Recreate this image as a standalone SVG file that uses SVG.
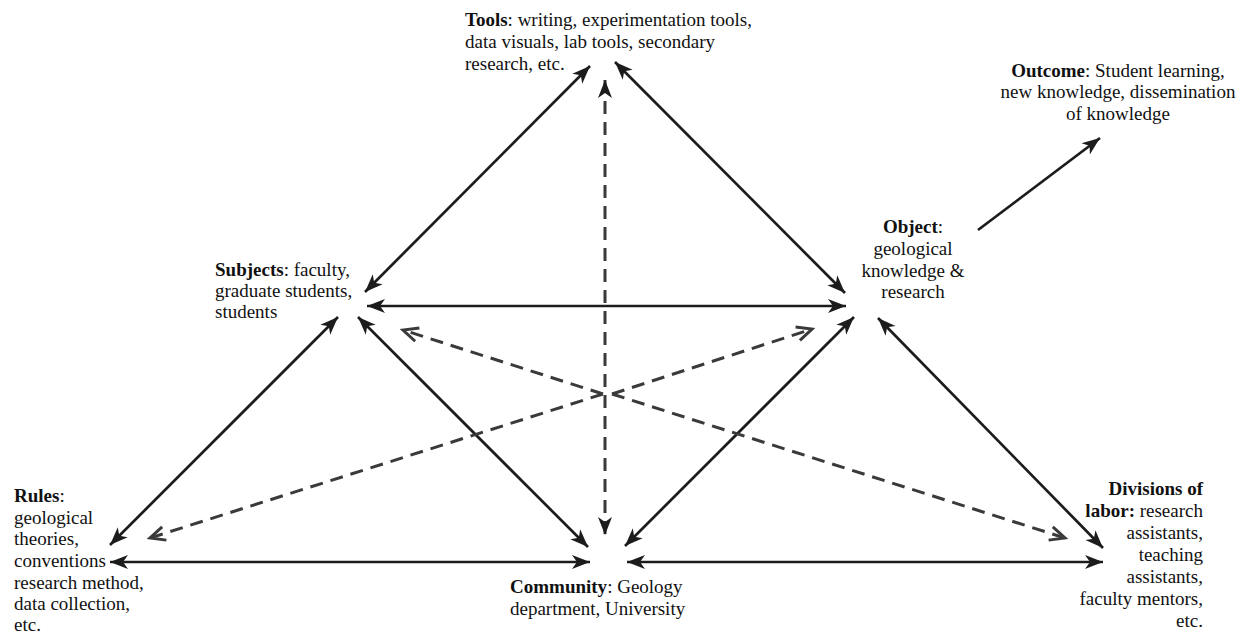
<svg xmlns="http://www.w3.org/2000/svg" width="1243" height="633" viewBox="0 0 1243 633">
<defs>
<style>
.t{font-family:"Liberation Serif","Times New Roman",serif;font-size:19px;fill:#111}
.b{font-weight:bold}
.s{stroke:#1c1c1c;stroke-width:2.7;fill:none}
.d{stroke:#3a3a3a;stroke-width:3;fill:none;stroke-dasharray:13 8}
</style>
<marker id="ah" markerUnits="userSpaceOnUse" markerWidth="19" markerHeight="16" refX="18" refY="8" orient="auto-start-reverse" viewBox="0 0 19 16">
<path d="M0,1 L18,8 L0,15 L5,8 z" fill="#1c1c1c"/>
</marker>
<marker id="oh" markerUnits="userSpaceOnUse" markerWidth="19" markerHeight="18" refX="16" refY="9" orient="auto" viewBox="0 0 19 18">
<path d="M1,2 L16,9 L1,16" fill="none" stroke="#3a3a3a" stroke-width="3"/>
</marker>
</defs>
<rect width="1243" height="633" fill="#fff"/>
<g id="connectors">
<line class="s" x1="590" y1="66" x2="365" y2="292" marker-start="url(#ah)" marker-end="url(#ah)"/>
<line class="s" x1="615" y1="62" x2="845" y2="293" marker-start="url(#ah)" marker-end="url(#ah)"/>
<line class="s" x1="367" y1="306" x2="846" y2="306" marker-start="url(#ah)" marker-end="url(#ah)"/>
<line class="s" x1="338" y1="317" x2="110" y2="545" marker-start="url(#ah)" marker-end="url(#ah)"/>
<line class="s" x1="358" y1="317" x2="588" y2="547" marker-start="url(#ah)" marker-end="url(#ah)"/>
<line class="s" x1="854" y1="317" x2="625" y2="546" marker-start="url(#ah)" marker-end="url(#ah)"/>
<line class="s" x1="878" y1="318" x2="1103" y2="548" marker-start="url(#ah)" marker-end="url(#ah)"/>
<line class="s" x1="110" y1="562" x2="590" y2="562" marker-start="url(#ah)" marker-end="url(#ah)"/>
<line class="s" x1="627" y1="562" x2="1103" y2="562" marker-start="url(#ah)" marker-end="url(#ah)"/>
<line class="s" x1="978" y1="230" x2="1100" y2="138" marker-end="url(#ah)"/>
<line class="d" x1="605" y1="80" x2="605" y2="535" marker-start="url(#ah)" marker-end="url(#ah)"/>
<line class="d" x1="603" y1="394" x2="403" y2="330" marker-end="url(#oh)"/>
<line class="d" x1="603" y1="394" x2="150" y2="538" marker-end="url(#oh)"/>
<line class="d" x1="612" y1="394" x2="812" y2="329" marker-end="url(#oh)"/>
<line class="d" x1="612" y1="394" x2="1065" y2="538" marker-end="url(#oh)"/>
</g>
<g id="tools">
<text class="t" x="465" y="26"><tspan class="b">Tools</tspan>: writing, experimentation tools,</text>
<text class="t" x="465" y="48">data visuals, lab tools, secondary</text>
<text class="t" x="465" y="70">research, etc.</text>
</g>
<g id="outcome">
<text class="t" x="1118" y="77" text-anchor="middle"><tspan class="b">Outcome</tspan>: Student learning,</text>
<text class="t" x="1118" y="98" text-anchor="middle">new knowledge, dissemination</text>
<text class="t" x="1118" y="120" text-anchor="middle">of knowledge</text>
</g>
<g id="object">
<text class="t" x="913" y="233" text-anchor="middle"><tspan class="b">Object</tspan>:</text>
<text class="t" x="913" y="255" text-anchor="middle">geological</text>
<text class="t" x="913" y="277" text-anchor="middle">knowledge &amp;</text>
<text class="t" x="913" y="298" text-anchor="middle">research</text>
</g>
<g id="subjects">
<text class="t" x="215" y="276"><tspan class="b">Subjects</tspan>: faculty,</text>
<text class="t" x="215" y="297">graduate students,</text>
<text class="t" x="215" y="318">students</text>
</g>
<g id="rules">
<text class="t" x="14" y="502"><tspan class="b">Rules</tspan>:</text>
<text class="t" x="14" y="524">geological</text>
<text class="t" x="14" y="545">theories,</text>
<text class="t" x="14" y="567">conventions</text>
<text class="t" x="14" y="589">research method,</text>
<text class="t" x="14" y="610">data collection,</text>
<text class="t" x="14" y="631">etc.</text>
</g>
<g id="community">
<text class="t" x="510" y="593"><tspan class="b">Community</tspan>: Geology</text>
<text class="t" x="510" y="615">department, University</text>
</g>
<g id="divisions">
<text class="t b" x="1203" y="495" text-anchor="end">Divisions of</text>
<text class="t" x="1203" y="517" text-anchor="end"><tspan class="b">labor:</tspan> research</text>
<text class="t" x="1203" y="539" text-anchor="end">assistants,</text>
<text class="t" x="1203" y="561" text-anchor="end">teaching</text>
<text class="t" x="1203" y="583" text-anchor="end">assistants,</text>
<text class="t" x="1203" y="605" text-anchor="end">faculty mentors,</text>
<text class="t" x="1203" y="627" text-anchor="end">etc.</text>
</g>
</svg>
